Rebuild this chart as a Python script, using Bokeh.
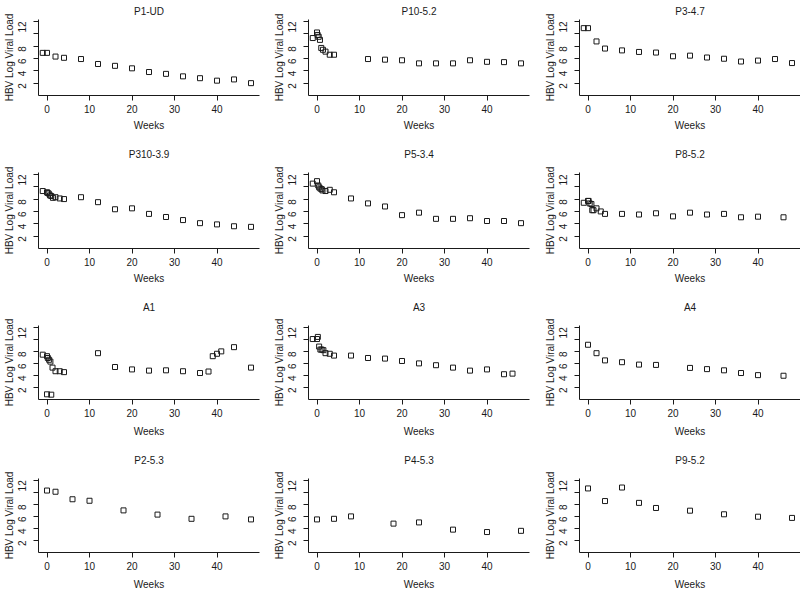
import math
from bokeh.plotting import figure
from bokeh.layouts import column, row
from bokeh.models import Range1d, FixedTicker
from bokeh.embed import file_html
from bokeh.resources import INLINE

# ---- data (weeks, HBV log viral load) ----
titles = ["P1-UD", "P10-5.2", "P3-4.7",
          "P310-3.9", "P5-3.4", "P8-5.2",
          "A1", "A3", "A4",
          "P2-5.3", "P4-5.3", "P9-5.2"]

p1ud_weeks = [-1, 0, 2, 4, 8, 12, 16, 20, 24, 28, 32, 36, 40, 44, 48]
p1ud_load = [6.9, 6.9, 6.3, 6.1, 5.9, 5.1, 4.8, 4.4, 3.8, 3.5, 3.1, 2.8, 2.4, 2.6, 2.0]

p10_weeks = [-1, 0, 0.15, 0.4, 0.7, 1, 1.4, 2, 3, 4, 12, 16, 20, 24, 28, 32, 36, 40, 44, 48]
p10_load = [9.3, 10.2, 9.8, 9.5, 9.0, 7.7, 7.4, 7.1, 6.6, 6.6, 5.9, 5.8, 5.7, 5.2, 5.2, 5.2, 5.7, 5.45, 5.4, 5.2]

p3_weeks = [-1, 0, 2, 4, 8, 12, 16, 20, 24, 28, 32, 36, 40, 44, 48]
p3_load = [10.9, 10.9, 8.75, 7.6, 7.3, 7.05, 6.95, 6.35, 6.45, 6.15, 5.95, 5.5, 5.65, 5.9, 5.25]

p310_weeks = [-1, 0, 0.15, 0.4, 0.7, 1, 1.4, 2, 3, 4, 8, 12, 16, 20, 24, 28, 32, 36, 40, 44, 48]
p310_load = [9.3, 9.1, 9.0, 8.9, 8.6, 8.5, 8.2, 8.3, 8.1, 8.0, 8.3, 7.5, 6.35, 6.5, 5.6, 5.1, 4.6, 4.1, 3.9, 3.6, 3.5]

p5_weeks = [-1, 0, 0.3, 0.5, 0.8, 1.1, 1.3, 2, 3, 4, 8, 12, 16, 20, 24, 28, 32, 36, 40, 44, 48]
p5_load = [10.5, 10.9, 10.2, 9.9, 9.7, 9.6, 9.4, 9.3, 9.5, 9.1, 8.1, 7.3, 6.8, 5.4, 5.8, 4.8, 4.8, 4.9, 4.45, 4.45, 4.1]

p8_weeks = [-1, 0, 0.15, 0.4, 0.8, 1, 1.3, 2, 3, 4, 8, 12, 16, 20, 24, 28, 32, 36, 40, 46]
p8_load = [7.4, 7.7, 7.7, 7.3, 7.2, 6.2, 6.2, 6.5, 6.0, 5.6, 5.6, 5.5, 5.7, 5.2, 5.8, 5.5, 5.6, 5.05, 5.15, 5.05]

a1_weeks = [-1, 0, 0.2, 0.5, 0.8, 1.3, 2, 3, 4, 0, 1, 12, 16, 20, 24, 28, 32, 36, 38, 39, 40, 41, 44, 48]
a1_load = [7.45, 7.2, 6.9, 6.6, 6.3, 5.3, 4.7, 4.7, 4.55, 0.86, 0.8, 7.7, 5.4, 5.0, 4.8, 4.85, 4.7, 4.4, 4.65, 7.2, 7.6, 8.0, 8.7, 5.3]

a3_weeks = [-1, 0, 0.2, 0.5, 0.8, 1.1, 1.5, 2, 3, 4, 8, 12, 16, 20, 24, 28, 32, 36, 40, 44, 46]
a3_load = [10.05, 10.05, 10.4, 8.8, 8.3, 8.3, 8.2, 7.7, 7.6, 7.3, 7.3, 6.9, 6.8, 6.4, 6.0, 5.7, 5.3, 4.8, 5.0, 4.2, 4.3]

a4_weeks = [0, 2, 4, 8, 12, 16, 24, 28, 32, 36, 40, 46]
a4_load = [9.1, 7.7, 6.5, 6.2, 5.8, 5.75, 5.25, 5.05, 4.85, 4.4, 4.05, 3.95]

p2_weeks = [0, 2, 6, 10, 18, 26, 34, 42, 48]
p2_load = [10.3, 10.1, 8.85, 8.6, 7.0, 6.3, 5.6, 6.0, 5.5]

p4_weeks = [0, 4, 8, 18, 24, 32, 40, 48]
p4_load = [5.5, 5.6, 6.0, 4.8, 5.0, 3.8, 3.4, 3.6]

p9_weeks = [0, 4, 8, 12, 16, 24, 32, 40, 48]
p9_load = [10.65, 8.55, 10.8, 8.25, 7.4, 6.95, 6.35, 5.95, 5.75]

x_ticks = [0, 10, 20, 30, 40]
y_ticks = [2, 4, 6, 8, 10, 12]
x_label = "Weeks"
y_label = "HBV Log Viral Load"

series = [(p1ud_weeks, p1ud_load), (p10_weeks, p10_load), (p3_weeks, p3_load),
          (p310_weeks, p310_load), (p5_weeks, p5_load), (p8_weeks, p8_load),
          (a1_weeks, a1_load), (a3_weeks, a3_load), (a4_weeks, a4_load),
          (p2_weeks, p2_load), (p4_weeks, p4_load), (p9_weeks, p9_load)]

# ---- layout geometry ----
X_LO, X_HI = -2, 50
Y_LO, Y_HI = 0, 12.3
col_w = [270, 270, 260]
col_left = [38, 38, 39]
col_right = [11, 11, 0]
row_h = [133, 153, 153, 153]
row_top = [19, 39, 39, 39]
title_standoff = [5, 25, 25, 25]
xlabel_standoff = [4, 4, 6, 6]
FRAME_H = 76
FONT = "Liberation Sans"
INK = "#1a1a1a"


def panel(i, j, title, weeks, load):
    top = row_top[i]
    bottom = row_h[i] - top - FRAME_H
    p = figure(width=col_w[j], height=row_h[i], output_backend="svg",
               toolbar_location=None,
               x_range=Range1d(X_LO, X_HI), y_range=Range1d(Y_LO, Y_HI),
               min_border_left=col_left[j], min_border_right=col_right[j],
               min_border_top=top, min_border_bottom=bottom,
               title=title)
    p.outline_line_color = None
    p.grid.visible = False
    p.background_fill_color = "white"
    p.border_fill_color = "white"
    p.title.align = "center"
    p.title.text_font = FONT
    p.title.text_font_size = "10px"
    p.title.text_font_style = "normal"
    p.title.text_color = INK
    p.title.standoff = title_standoff[i]

    for ax in (p.xaxis[0], p.yaxis[0]):
        ax.axis_line_color = INK
        ax.major_tick_line_color = INK
        ax.minor_tick_line_color = None
        ax.major_tick_out = 5
        ax.major_tick_in = 0
        ax.major_label_text_font = FONT
        ax.major_label_text_font_size = "10px"
        ax.major_label_text_color = INK
        ax.axis_label_text_font = FONT
        ax.axis_label_text_font_size = "10px"
        ax.axis_label_text_font_style = "normal"
        ax.axis_label_text_color = INK

    p.xaxis.ticker = FixedTicker(ticks=x_ticks)
    p.yaxis.ticker = FixedTicker(ticks=y_ticks)
    p.yaxis.major_label_overrides = {10: ""}
    p.yaxis.major_label_orientation = math.pi / 2
    p.xaxis.axis_label = x_label
    p.yaxis.axis_label = y_label
    p.xaxis.major_label_standoff = 4
    p.yaxis.major_label_standoff = 11
    p.xaxis.axis_label_standoff = xlabel_standoff[i]
    p.yaxis.axis_label_standoff = -3

    p.scatter(weeks, load, marker="square", size=5, fill_color=None,
              line_color=INK, line_width=1)
    return p


rows = []
for i in range(4):
    figs = []
    for j in range(3):
        k = i * 3 + j
        w, l = series[k]
        figs.append(panel(i, j, titles[k], w, l))
    rows.append(row(*figs))

layout = column(*rows)

open("out.html", "w").write(file_html(layout, INLINE))
